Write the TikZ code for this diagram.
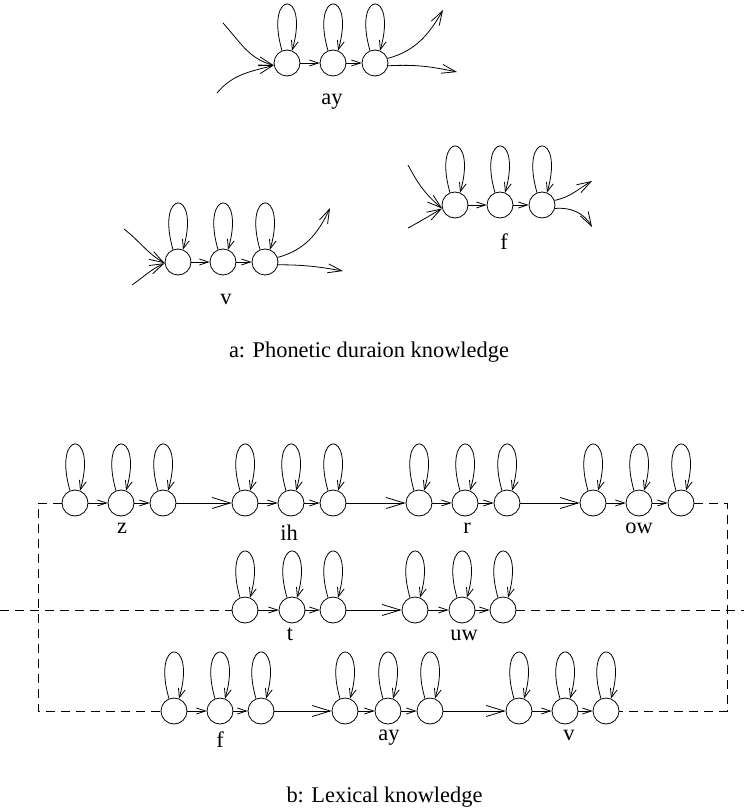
\documentclass[tikz,border=0pt]{standalone}
\usepackage{fontspec}
\setmainfont{Liberation Serif}
\usetikzlibrary{arrows.meta}
\newcommand\hmmphone[5]{%
  \node[st] (#1a) at (#2,#5) {};
  \node[st] (#1b) at (#3,#5) {};
  \node[st] (#1c) at (#4,#5) {};
  \draw[sm] (#1a) -- (#1b);
  \draw[sm] (#1b) -- (#1c);
  \foreach \n in {a,b,c} \draw[lp] (#1\n.112) .. controls +(-18,62) and +(18,62) .. (#1\n.68);
}
\begin{document}
\begin{tikzpicture}[x=1pt,y=1pt,
  every path/.style={line width=0.8pt},
  st/.style={circle,draw,minimum size=26pt,inner sep=0pt,line width=0.8pt},
  sm/.style={-{Straight Barb[length=9pt,width=6pt,line width=0.8pt]}},
  lp/.style={-{Straight Barb[length=9pt,width=7pt,line width=0.8pt]}},
  md/.style={-{Straight Barb[length=14pt,width=9pt,line width=0.8pt]}},
  lg/.style={-{Straight Barb[length=18pt,width=11pt,line width=0.8pt]}},
  dsh/.style={dash pattern=on 9pt off 6pt},
  lab/.style={anchor=base,inner sep=0pt,font=\fontsize{22.4}{26}\selectfont}]
\useasboundingbox (0,-810) rectangle (744,0);

% ---------- a: top part ----------
\hmmphone{Tay}{287}{333}{375}{-63}
\hmmphone{Tv}{178}{223}{265}{-262}
\hmmphone{Tf}{455}{500}{542}{-205}

\coordinate (Tayi1) at (223,-23);
\coordinate (Tayi2) at (217,-93);
\coordinate (Tayo1) at (443,-10);
\coordinate (Tayo2) at (457,-72);
\draw[md] (Tayi1) to[out=-48,in=165] (Taya.190);
\draw[md] (Tayi2) to[out=50,in=195] (Taya.190);
\draw[md] (Tayc.20) to[out=15,in=240] (Tayo1);
\draw[md] (Tayc.-12) to[out=3,in=168] (Tayo2);

\coordinate (Tvi1) at (124,-229);
\coordinate (Tvi2) at (132,-285);
\coordinate (Tvo1) at (330,-208);
\coordinate (Tvo2) at (343,-271);
\draw[md] (Tvi1) to[out=-38,in=150] (Tva.185);
\draw[md] (Tvi2) to[out=35,in=205] (Tva.185);
\draw[md] (Tvc.20) to[out=15,in=245] (Tvo1);
\draw[md] (Tvc.-12) to[out=0,in=170] (Tvo2);

\coordinate (Tfi1) at (408,-165);
\coordinate (Tfi2) at (408,-228);
\coordinate (Tfo1) at (592,-181);
\coordinate (Tfo2) at (592,-227);
\draw[md] (Tfi1) to[out=-62,in=140] (Tfa.195);
\draw[md] (Tfi2) to[out=28,in=210] (Tfa.195);
\draw[md] (Tfc.20) to[out=12,in=210] (Tfo1);
\draw[md] (Tfc.-15) to[out=5,in=120] (Tfo2);

\node[lab] (lTay) at (332,-105) {ay};
\node[lab] (lTv) at (226,-304) {v};
\node[lab] (lTf) at (504,-249) {f};
\node[lab] (capa) at (369,-357) {a: Phonetic duraion knowledge};

% ---------- b: bottom part ----------
\hmmphone{z}{75}{121}{163}{-503}
\hmmphone{ih}{245}{291}{333}{-503}
\hmmphone{r}{419}{465}{507}{-503}
\hmmphone{ow}{593}{639}{681}{-503}
\draw[lg] (zc) -- (iha);
\draw[lg] (ihc) -- (ra);
\draw[lg] (rc) -- (owa);

\hmmphone{t}{245}{292}{333}{-610}
\hmmphone{uw}{415}{462}{503}{-610}
\draw[lg] (tc) -- (uwa);

\hmmphone{Bf}{174}{220}{261}{-711}
\hmmphone{Bay}{345}{388}{430}{-711}
\hmmphone{Bv}{519}{565}{606}{-711}
\draw[lg] (Bfc) -- (Baya);
\draw[lg] (Bayc) -- (Bva);

\coordinate (L1) at (38,-503);
\coordinate (L3) at (38,-711);
\coordinate (R1) at (727,-503);
\coordinate (R3) at (727,-711);
\coordinate (M0) at (0,-610);
\coordinate (M1) at (744,-610);
\draw[dsh] (za.west) -- (L1) -- (L3) -- (Bfa.west);
\draw[dsh] (owc.east) -- (R1) -- (R3) -- (Bvc.east);
\draw[dsh] (M0) -- (ta.west);
\draw[dsh] (uwc.east) -- (M1);

\node[lab] (lz) at (122,-533) {z};
\node[lab] (lih) at (289,-540) {ih};
\node[lab] (lr) at (467,-533) {r};
\node[lab] (low) at (639,-533) {ow};
\node[lab] (lt) at (290,-640) {t};
\node[lab] (luw) at (464,-640) {uw};
\node[lab] (lBf) at (220,-747) {f};
\node[lab] (lBay) at (389,-740) {ay};
\node[lab] (lBv) at (569,-740) {v};
\node[lab] (capb) at (384.5,-802) {b: Lexical knowledge};
\end{tikzpicture}
\end{document}
